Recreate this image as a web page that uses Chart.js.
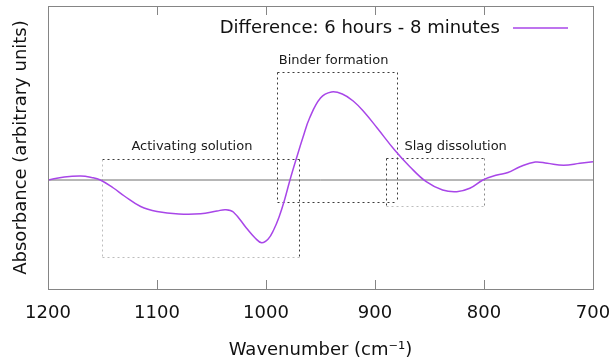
<!DOCTYPE html>
<html>
<head>
<meta charset="utf-8">
<script src="https://cdn.jsdelivr.net/npm/chart.js@4"></script>
<style>
  html, body { margin: 0; padding: 0; background: #fff; }
  #wrap { width: 615px; height: 361px; }
</style>
</head>
<body>
<div id="wrap"><canvas id="chart"></canvas></div>
<script>
// FTIR difference spectrum
const wavenumbers = [1200, 1185, 1170, 1160, 1152, 1140, 1130, 1115, 1100, 1080, 1060, 1045, 1037, 1030,
  1018, 1010, 1004, 998, 993, 988, 983, 978, 972, 966, 960, 950, 940, 930, 920, 910, 898, 882, 868, 853,
  838, 825, 813, 801, 788, 778, 767, 753, 742, 727, 712, 700];
const absorbance = [0, 0.03, 0.04, 0.025, 0, -0.08, -0.16, -0.265, -0.315, -0.34, -0.338, -0.31, -0.297, -0.32,
  -0.48, -0.58, -0.627, -0.59, -0.5, -0.37, -0.2, 0, 0.22, 0.43, 0.62, 0.82, 0.88, 0.86, 0.79, 0.68, 0.52, 0.3, 0.133, -0.017,
  -0.1, -0.117, -0.083, 0, 0.05, 0.075, 0.133, 0.18, 0.167, 0.147, 0.167, 0.183];

const seriesLabel = 'Difference: 6 hours - 8 minutes';
const xTicks = [1200, 1100, 1000, 900, 800, 700];

// highlighted regions (wavenumber range, absorbance range) and their labels
const regionNames = ['Activating solution', 'Binder formation', 'Slag dissolution'];
const regionFrom = [1150, 990, 890];
const regionTo = [970, 880, 800];
const regionTop = [0.21, 1.085, 0.215];
const regionBottom = [-0.77, -0.22, -0.26];
const labelAt = [[1068, 0.33], [938, 1.19], [826, 0.33]];

// edge colours: top, right, bottom, left
const DARK = '#3a3a3a', LIGHT = '#bdbdbd';
const edgeColors = [
  [DARK, DARK, LIGHT, LIGHT],
  [DARK, DARK, DARK, DARK],
  [DARK, '#8a8a8a', LIGHT, DARK]
];

const FONT = "'DejaVu Sans', Verdana, sans-serif";

let points = wavenumbers.map((w, i) => ({ x: w, y: absorbance[i] }));

const extras = {
  id: 'extras',
  beforeDatasetsDraw(chart) {
    const ctx = chart.ctx;
    const xs = chart.scales.x, ys = chart.scales.y;
    ctx.save();
    ctx.lineWidth = 1;
    ctx.setLineDash([2, 3]);
    for (let i = 0; i < regionNames.length; i++) {
      let l = Math.round(xs.getPixelForValue(regionFrom[i])) + 0.5;
      let r = Math.round(xs.getPixelForValue(regionTo[i])) + 0.5;
      let t = Math.round(ys.getPixelForValue(regionTop[i])) + 0.5;
      let b = Math.round(ys.getPixelForValue(regionBottom[i])) + 0.5;
      let edges = [[l, t, r, t], [r, t, r, b], [l, b, r, b], [l, t, l, b]];
      edges.forEach((e, k) => {
        ctx.strokeStyle = edgeColors[i][k];
        ctx.beginPath();
        ctx.moveTo(e[0], e[1]);
        ctx.lineTo(e[2], e[3]);
        ctx.stroke();
      });
      ctx.fillStyle = '#1a1a1a';
      ctx.font = '13px ' + FONT;
      ctx.textAlign = 'center';
      ctx.textBaseline = 'middle';
      ctx.fillText(regionNames[i], xs.getPixelForValue(labelAt[i][0]), ys.getPixelForValue(labelAt[i][1]));
    }
    ctx.restore();
  },
  afterDraw(chart) {
    const ctx = chart.ctx;
    const a = chart.chartArea;
    const xs = chart.scales.x;
    ctx.save();
    // frame
    ctx.strokeStyle = '#858585';
    ctx.lineWidth = 1;
    ctx.strokeRect(Math.round(a.left) + 0.5, Math.round(a.top) + 0.5,
      Math.round(a.right - a.left), Math.round(a.bottom - a.top));
    // inward ticks, bottom and top
    xs.ticks.forEach(t => {
      let px = Math.round(xs.getPixelForValue(t.value)) + 0.5;
      if (px <= a.left + 2 || px >= a.right - 2) return;
      ctx.beginPath();
      ctx.moveTo(px, a.bottom);
      ctx.lineTo(px, a.bottom - 9);
      ctx.moveTo(px, a.top);
      ctx.lineTo(px, a.top + 9);
      ctx.stroke();
    });
    // legend, sample line to the right of the text
    const ds = chart.data.datasets[0];
    let ly = a.top + 22;
    let lineEnd = a.right - 25;
    let lineStart = lineEnd - 55;
    ctx.strokeStyle = ds.borderColor;
    ctx.lineWidth = 1.5;
    ctx.beginPath();
    ctx.moveTo(lineStart, ly);
    ctx.lineTo(lineEnd, ly);
    ctx.stroke();
    ctx.fillStyle = '#111';
    ctx.font = '18px ' + FONT;
    ctx.textAlign = 'right';
    ctx.textBaseline = 'middle';
    ctx.fillText(ds.label, lineStart - 13, ly);
    ctx.restore();
  }
};

new Chart(document.getElementById('chart'), {
  type: 'line',
  data: {
    datasets: [
      {
        label: seriesLabel,
        data: points,
        borderColor: '#a846e8',
        borderWidth: 1.5,
        pointRadius: 0,
        tension: 0.4,
        order: 1
      },
      {
        label: 'zero',
        data: [{ x: xTicks[0], y: 0 }, { x: xTicks[xTicks.length - 1], y: 0 }],
        borderColor: '#6e6e6e',
        borderWidth: 1,
        pointRadius: 0,
        order: 2
      }
    ]
  },
  options: {
    responsive: true,
    maintainAspectRatio: false,
    animation: false,
    events: [],
    layout: { padding: { top: 6, right: 22, left: 0, bottom: 0 } },
    plugins: {
      legend: { display: false },
      tooltip: { enabled: false }
    },
    scales: {
      x: {
        type: 'linear',
        reverse: true,
        min: 700,
        max: 1200,
        border: { display: false },
        grid: { display: false, drawTicks: false },
        afterBuildTicks: s => { s.ticks = xTicks.map(v => ({ value: v })); },
        ticks: {
          color: '#111',
          font: { family: FONT, size: 18 },
          padding: 14,
          maxRotation: 0,
          callback: v => String(v)
        },
        title: {
          display: true,
          text: 'Wavenumber (cm\u207B\u00B9)',
          color: '#111',
          font: { family: FONT, size: 18 },
          padding: { top: 0, bottom: 0 }
        },
        afterFit: s => { s.height = 72; s.paddingLeft = 0; s.paddingRight = 0; }
      },
      y: {
        min: -1.09,
        max: 1.74,
        border: { display: false },
        grid: { display: false },
        ticks: { display: false },
        title: {
          display: true,
          text: 'Absorbance (arbitrary units)',
          color: '#111',
          font: { family: FONT, size: 18 },
          padding: { top: 11, bottom: 0 }
        },
        afterFit: s => { s.width = 48; }
      }
    }
  },
  plugins: [extras]
});
</script>
</body>
</html>
